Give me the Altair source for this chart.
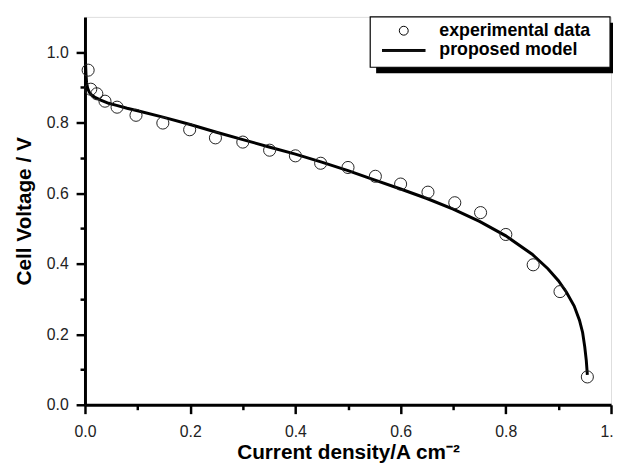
import altair as alt
import pandas as pd

# experimental data (circles)
exp_x = [0.006, 0.011, 0.0225, 0.038, 0.061, 0.097, 0.148, 0.199, 0.248, 0.300, 0.351, 0.400,
         0.448, 0.500, 0.552, 0.600, 0.652, 0.703, 0.752, 0.800, 0.852, 0.903, 0.955]
exp_y = [0.949, 0.895, 0.882, 0.861, 0.844, 0.821, 0.799, 0.780, 0.757, 0.745, 0.722, 0.706,
         0.685, 0.673, 0.648, 0.626, 0.603, 0.573, 0.545, 0.483, 0.397, 0.321, 0.079]

# proposed model (line)
mod_x = [0.0005, 0.001, 0.002, 0.003, 0.005, 0.008, 0.012, 0.02, 0.03, 0.045, 0.06, 0.08, 0.1,
         0.15, 0.2, 0.25, 0.3, 0.35, 0.4, 0.45, 0.5, 0.55, 0.6, 0.65, 0.7, 0.75, 0.8, 0.85,
         0.88, 0.9, 0.915, 0.93, 0.94, 0.946, 0.95, 0.953, 0.955]
mod_y = [1.0, 0.97, 0.935, 0.915, 0.898, 0.887, 0.879, 0.871, 0.864, 0.855, 0.849, 0.841, 0.834,
         0.815, 0.795, 0.773, 0.752, 0.731, 0.711, 0.688, 0.664, 0.638, 0.612, 0.585, 0.555,
         0.52, 0.479, 0.427, 0.386, 0.352, 0.32, 0.28, 0.24, 0.205, 0.165, 0.125, 0.085]

series_names = ["experimental data", "proposed model"]
major_ticks = [0.0, 0.2, 0.4, 0.6, 0.8, 1.0]
minor_ticks = [0.1, 0.3, 0.5, 0.7, 0.9]

exp_df = pd.DataFrame({"i": exp_x, "v": exp_y, "series": series_names[0]})
mod_df = pd.DataFrame({"i": mod_x, "v": mod_y})

FONT = "Liberation Sans"
xscale = alt.Scale(domain=[0, 1.0], nice=False, zero=False)
yscale = alt.Scale(domain=[0, 1.1], nice=False, zero=False)

common_axis = dict(domainColor="black", domainWidth=3, tickColor="black", tickWidth=2.5,
                   grid=False, labelFont=FONT, labelFontSize=16, labelColor="#222",
                   titleFont=FONT, titleFontSize=21, titleFontWeight="bold", titleColor="black")

major_x = alt.Axis(values=major_ticks, format=".1f", tickSize=9, labelPadding=10,
                   labelFlush=False, title="Current density/A cm⁻²", titlePadding=2,
                   orient="bottom", **common_axis)
major_y = alt.Axis(values=major_ticks, format=".1f", tickSize=9, labelPadding=8,
                   labelFlush=False, title="Cell Voltage / V", titlePadding=12,
                   orient="left", **common_axis)
minor_x = alt.Axis(values=minor_ticks, tickSize=5, labels=False, domain=False, title=None,
                   orient="bottom", tickColor="black", tickWidth=2.5, grid=False)
minor_y = alt.Axis(values=minor_ticks, tickSize=5, labels=False, domain=False, title=None,
                   orient="left", tickColor="black", tickWidth=2.5, grid=False)

one = pd.DataFrame({"k": [0]})
shadow = alt.Chart(one).mark_rect(color="black").encode(
    x=alt.value(295), x2=alt.value(540), y=alt.value(6), y2=alt.value(57))
box = alt.Chart(one).mark_rect(fill="white", stroke="black", strokeWidth=1.2).encode(
    x=alt.value(289), x2=alt.value(532), y=alt.value(0), y2=alt.value(51))

line = alt.Chart(mod_df).mark_line(color="black", strokeWidth=3).encode(
    x=alt.X("i:Q", scale=xscale, axis=major_x),
    y=alt.Y("v:Q", scale=yscale, axis=major_y),
    order="i:Q",
)

line_symbol = "M-4.9,-0.22 H4.9 M-4.9,0 H4.9 M-4.9,0.22 H4.9"
points = alt.Chart(exp_df).mark_point(filled=False, color="#222", size=150, strokeWidth=1,
                                      opacity=1).encode(
    x=alt.X("i:Q", scale=xscale, axis=minor_x),
    y=alt.Y("v:Q", scale=yscale, axis=minor_y),
    shape=alt.Shape("series:N",
                    scale=alt.Scale(domain=series_names, range=["circle", line_symbol]),
                    legend=alt.Legend(title=None, orient="none", legendX=314, legendY=5,
                                      labelFont=FONT, labelFontSize=18, labelFontWeight="bold",
                                      labelColor="black", symbolSize=81, symbolStrokeWidth=1,
                                      symbolStrokeColor="black", symbolFillColor="transparent",
                                      labelOffset=27, rowPadding=2, padding=0)),
)

chart = alt.layer(shadow, box, line, points).resolve_axis(
    x="independent", y="independent"
).properties(
    width=533, height=393,
    autosize=alt.AutoSizeParams(type="none"),
    padding={"left": 78, "top": 6, "right": 2, "bottom": 59},
).configure_view(stroke=None).configure(background="white")

chart.save("out.html", embed_options={"renderer": "svg", "actions": False})
